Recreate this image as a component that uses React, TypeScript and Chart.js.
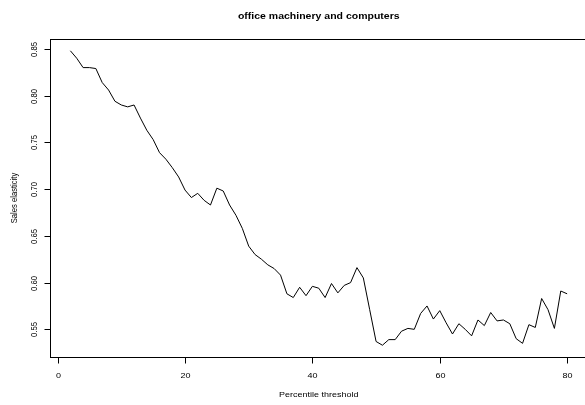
import React, { useEffect, useRef } from "react";
import { Chart, registerables } from "chart.js";

Chart.register(...registerables);

// Percentile thresholds (x) and the estimated sales elasticity at each one (y)
const thresholds = [
  2, 3, 4, 5, 6, 7, 8, 9, 10, 11, 12, 13, 14, 15, 16, 17, 18, 19, 20, 21,
  22, 23, 24, 25, 26, 27, 28, 29, 30, 31, 32, 33, 34, 35, 36, 37, 38, 39, 40, 41,
  42, 43, 44, 45, 46, 47, 48, 49, 50, 51, 52, 53, 54, 55, 56, 57, 58, 59, 60, 61,
  62, 63, 64, 65, 66, 67, 68, 69, 70, 71, 72, 73, 74, 75, 76, 77, 78, 79, 80,
];

const elasticity = [
  0.848, 0.840, 0.830, 0.830, 0.829, 0.814, 0.806, 0.794, 0.790, 0.788,
  0.790, 0.776, 0.763, 0.753, 0.739, 0.732, 0.723, 0.713, 0.699, 0.691,
  0.6955, 0.688, 0.683, 0.701, 0.698, 0.683, 0.672, 0.658, 0.639, 0.630,
  0.625, 0.619, 0.615, 0.608, 0.588, 0.584, 0.595, 0.586, 0.596, 0.594,
  0.584, 0.599, 0.589, 0.597, 0.600, 0.616, 0.605, 0.571, 0.537, 0.533,
  0.539, 0.539, 0.548, 0.551, 0.550, 0.567, 0.575, 0.561, 0.570, 0.557,
  0.545, 0.556, 0.550, 0.543, 0.560, 0.554, 0.568, 0.559, 0.560, 0.556,
  0.540, 0.535, 0.555, 0.552, 0.583, 0.571, 0.551, 0.591, 0.588,
];

const xTicks = [0, 20, 40, 60, 80];
const xTickLabels = ["0", "20", "40", "60", "80"];
const yTicks = [0.55, 0.6, 0.65, 0.7, 0.75, 0.8, 0.85];
const yTickLabels = ["0.55", "0.60", "0.65", "0.70", "0.75", "0.80", "0.85"];

const chartTitle = "office machinery and computers";
const xTitle = "Percentile threshold";
const yTitle = "Sales elasticity";

const FONT = "'Liberation Sans', Arial, Helvetica, sans-serif";
const SQUEEZE = 0.85; // glyphs are a little flatter than wide

// R-style axis limits: data range widened by 4% on each side
function padRange(vals: number[]): [number, number] {
  const lo = Math.min(...vals);
  const hi = Math.max(...vals);
  const r = hi - lo;
  return [lo - 0.04 * r, hi + 0.04 * r];
}

function drawText(
  ctx: CanvasRenderingContext2D,
  text: string,
  x: number,
  y: number,
  font: string,
  rotated = false
) {
  ctx.save();
  ctx.translate(x, y);
  if (rotated) {
    ctx.rotate(-Math.PI / 2);
    ctx.scale(SQUEEZE, 1);
  } else {
    ctx.scale(1, SQUEEZE);
  }
  ctx.font = font;
  ctx.textAlign = "center";
  ctx.textBaseline = "middle";
  ctx.fillStyle = "#000";
  ctx.fillText(text, 0, 0);
  ctx.restore();
}

const baseGraphics = {
  id: "baseGraphics",
  afterDraw(chart: Chart) {
    const { ctx, chartArea: a } = chart;
    const xs = chart.scales.x;
    const ys = chart.scales.y;
    const L = Math.floor(a.left) + 0.5;
    const R = Math.floor(a.right) + 0.5;
    const T = Math.floor(a.top) + 0.5;
    const B = Math.floor(a.bottom) + 0.5;

    ctx.save();
    ctx.strokeStyle = "#000";
    ctx.lineWidth = 1;
    ctx.strokeRect(L, T, R - L, B - T);

    const tickFont = `9px ${FONT}`;

    xTicks.forEach((v, i) => {
      const px = Math.round(xs.getPixelForValue(v)) + 0.5;
      ctx.beginPath();
      ctx.moveTo(px, B);
      ctx.lineTo(px, B + 6);
      ctx.stroke();
      drawText(ctx, xTickLabels[i], px, B + 18, tickFont);
    });

    yTicks.forEach((v, i) => {
      const py = Math.round(ys.getPixelForValue(v)) + 0.5;
      ctx.beginPath();
      ctx.moveTo(L, py);
      ctx.lineTo(L - 6, py);
      ctx.stroke();
      drawText(ctx, yTickLabels[i], L - 15.5, py, tickFont, true);
    });

    drawText(ctx, xTitle, (a.left + a.right) / 2, B + 37.5, tickFont);
    drawText(ctx, yTitle, L - 36, (a.top + a.bottom) / 2, tickFont, true);
    drawText(ctx, chartTitle, (a.left + a.right) / 2, T - 22.5, `bold 10.5px ${FONT}`);
    ctx.restore();
  },
};

export default function App() {
  const canvasRef = useRef<HTMLCanvasElement | null>(null);

  useEffect(() => {
    const canvas = canvasRef.current;
    if (!canvas) return;
    const [xMin, xMax] = padRange(thresholds);
    const [yMin, yMax] = padRange(elasticity);

    const chart = new Chart(canvas, {
      type: "line",
      data: {
        datasets: [
          {
            data: thresholds.map((t, i) => ({ x: t, y: elasticity[i] })),
            borderColor: "#000",
            borderWidth: 1,
            pointRadius: 0,
            tension: 0,
            fill: false,
          },
        ],
      },
      options: {
        responsive: false,
        animation: false,
        devicePixelRatio: 1,
        layout: { padding: { left: 50.5, top: 39, right: 5, bottom: 48 } },
        scales: {
          x: { type: "linear", min: xMin, max: xMax, display: false },
          y: { type: "linear", min: yMin, max: yMax, display: false },
        },
        plugins: {
          legend: { display: false },
          tooltip: { enabled: false },
          title: { display: false },
        },
      },
      plugins: [baseGraphics],
    });

    return () => chart.destroy();
  }, []);

  return (
    <div
      style={{
        position: "absolute",
        left: 0,
        top: 0,
        width: 585,
        height: 405,
        overflow: "hidden",
        background: "#fff",
      }}
    >
      <canvas ref={canvasRef} width={592} height={405} style={{ display: "block" }} />
    </div>
  );
}
